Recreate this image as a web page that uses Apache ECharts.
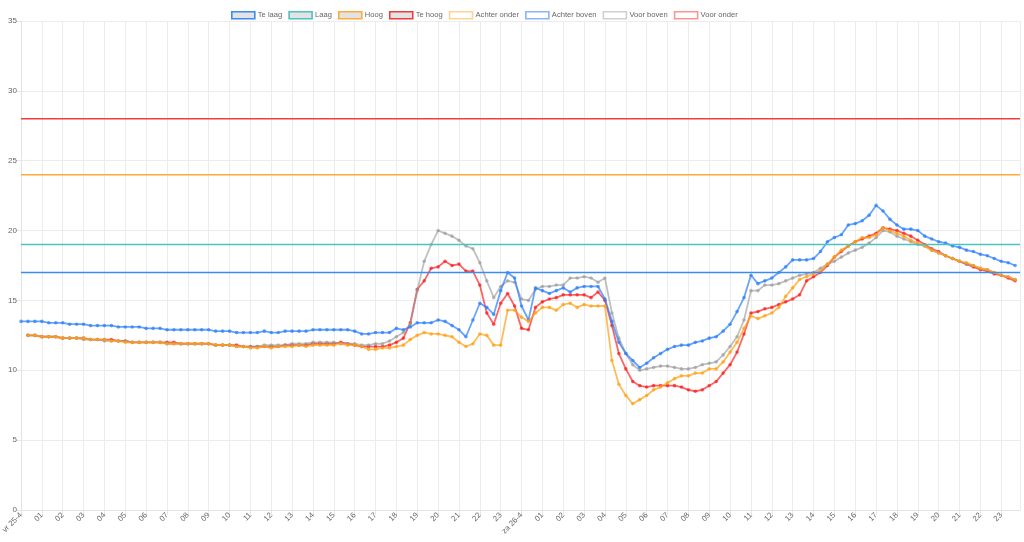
<!DOCTYPE html>
<html><head><meta charset="utf-8">
<script src="https://cdn.jsdelivr.net/npm/echarts@6/dist/echarts.min.js"></script>
<style>html,body{margin:0;padding:0;background:#fff}#c{width:1024px;height:542px}</style>
</head><body><div id="c"></div>
<script>
// Tick labels (one per hour, 48 hours)
const xTickLabels = ['vr 25-4','01','02','03','04','05','06','07','08','09','10','11','12','13','14','15','16','17','18','19','20','21','22','23',
                     'za 26-4','01','02','03','04','05','06','07','08','09','10','11','12','13','14','15','16','17','18','19','20','21','22','23'];
const pointsPerHour = 3; // one sample every 20 minutes

// Thresholds
const thresholdNames = ['Te laag','Laag','Hoog','Te hoog'];
const thresholdValues = [17, 19, 24, 28];

// Sensor series (144 samples, 20 min apart)
const achterOnder = [null,
12.5,12.5,12.4,12.4,12.4,12.3,12.3,12.3,12.3,12.2,12.2,12.2,12.1,12.1,12.0,12.0,12.0,12.0,12.0,12.0,
11.9,11.9,11.9,11.9,11.9,11.9,11.9,11.8,11.8,11.8,11.7,11.7,11.6,11.6,11.7,11.6,11.7,11.7,11.7,11.8,
11.7,11.8,11.8,11.8,11.8,11.9,11.8,11.8,11.7,11.5,11.5,11.6,11.6,11.7,11.8,12.2,12.5,12.7,12.6,12.6,
12.5,12.4,12.0,11.7,11.9,12.6,12.5,11.8,11.8,14.3,14.3,13.8,13.5,14.1,14.5,14.5,14.3,14.7,14.8,14.5,
14.7,14.6,14.6,14.6,10.7,9.0,8.2,7.6,7.9,8.2,8.6,8.8,9.1,9.4,9.6,9.6,9.8,9.8,10.1,10.1,
10.6,11.3,12.0,13.0,13.9,13.7,13.9,14.1,14.5,15.3,15.9,16.5,16.7,16.9,17.1,17.6,18.1,18.6,18.9,19.2,
19.5,19.5,19.7,20.2,20.0,19.8,19.6,19.3,19.1,18.9,18.6,18.4,18.2,18.0,17.8,17.7,17.5,17.3,17.2,17.0,
16.8,16.7,16.5];
const achterBoven = [13.5,
13.5,13.5,13.5,13.4,13.4,13.4,13.3,13.3,13.3,13.2,13.2,13.2,13.2,13.1,13.1,13.1,13.1,13.0,13.0,13.0,
12.9,12.9,12.9,12.9,12.9,12.9,12.9,12.8,12.8,12.8,12.7,12.7,12.7,12.7,12.8,12.7,12.7,12.8,12.8,12.8,
12.8,12.9,12.9,12.9,12.9,12.9,12.9,12.8,12.6,12.6,12.7,12.7,12.7,13.0,12.9,13.1,13.4,13.4,13.4,13.6,
13.5,13.2,12.9,12.4,13.6,14.8,14.5,14.0,15.7,17.0,16.6,14.6,13.6,15.9,15.7,15.5,15.7,15.9,15.6,15.9,
16.0,16.0,16.0,15.1,13.5,12.0,11.2,10.7,10.2,10.5,10.9,11.2,11.5,11.7,11.8,11.8,12.0,12.1,12.3,12.4,
12.8,13.3,14.2,15.2,16.8,16.2,16.4,16.6,17.0,17.4,17.9,17.9,17.9,18.0,18.5,19.2,19.5,19.7,20.4,20.5,
20.7,21.1,21.8,21.4,20.8,20.4,20.1,20.1,20.0,19.6,19.4,19.2,19.1,18.9,18.8,18.6,18.5,18.3,18.2,18.0,
17.8,17.7,17.5];
const voorBoven = [null,
12.5,12.5,12.4,12.4,12.4,12.3,12.3,12.3,12.2,12.2,12.2,12.1,12.1,12.1,12.1,12.0,12.0,12.0,12.0,12.0,
11.9,11.9,11.9,11.9,11.9,11.9,11.9,11.8,11.8,11.8,11.7,11.7,11.7,11.7,11.8,11.8,11.8,11.8,11.9,11.9,
11.9,12.0,12.0,12.0,12.0,11.9,11.9,11.9,11.8,11.8,11.9,11.9,12.1,12.4,12.7,13.3,15.7,17.8,19.0,20.0,
19.8,19.6,19.3,18.9,18.7,17.7,16.4,15.2,16.0,16.4,16.3,15.1,15.0,15.8,16.0,16.0,16.1,16.1,16.6,16.6,
16.7,16.6,16.3,16.6,14.1,12.3,11.2,10.4,10.0,10.1,10.2,10.3,10.3,10.2,10.1,10.1,10.2,10.4,10.5,10.6,
11.1,11.7,12.4,13.6,15.7,15.7,16.1,16.1,16.2,16.4,16.6,16.8,16.9,17.0,17.3,17.6,17.8,18.1,18.4,18.6,
18.8,19.1,19.5,20.0,19.9,19.6,19.4,19.2,19.0,18.9,18.6,18.4,18.2,18.0,17.8,17.6,17.5,17.3,17.2,17.0,
16.8,16.7,16.5];
const voorOnder = [null,
12.5,12.5,12.4,12.4,12.4,12.3,12.3,12.3,12.3,12.2,12.2,12.2,12.2,12.1,12.1,12.0,12.0,12.0,12.0,12.0,
12.0,12.0,11.9,11.9,11.9,11.9,11.9,11.8,11.8,11.8,11.8,11.7,11.7,11.7,11.7,11.7,11.7,11.8,11.8,11.8,
11.8,11.9,11.9,11.9,11.9,12.0,11.9,11.8,11.7,11.7,11.7,11.7,11.8,12.0,12.3,13.4,15.8,16.4,17.3,17.4,
17.8,17.5,17.6,17.1,17.1,16.1,14.1,13.3,14.8,15.5,14.6,13.0,12.9,14.5,14.9,15.1,15.2,15.4,15.4,15.4,
15.4,15.2,15.6,15.0,13.2,11.2,10.1,9.2,8.9,8.8,8.9,8.9,8.9,8.9,8.8,8.6,8.5,8.6,8.9,9.2,
9.8,10.4,11.3,12.6,14.1,14.2,14.4,14.5,14.7,14.9,15.1,15.4,16.4,16.7,17.0,17.5,18.1,18.5,18.9,19.2,
19.4,19.6,19.8,20.2,20.1,20.0,19.8,19.6,19.3,19.0,18.7,18.5,18.2,18.0,17.8,17.6,17.4,17.2,17.1,16.9,
16.8,16.6,16.4];

const sensorNames = ['Achter onder','Achter boven','Voor boven','Voor onder'];
const sensorData = [achterOnder, achterBoven, voorBoven, voorOnder];

// styles
const thresholdColors = ['rgb(58,140,240)','rgb(75,195,190)','rgb(255,170,60)','rgb(240,60,60)'];
const sensorColors = ['rgba(255,160,20,0.7)','rgba(40,125,250,0.7)','rgba(150,150,150,0.6)','rgba(250,20,20,0.65)'];
const sensorLegendBorders = ['rgba(255,170,40,0.5)','rgba(60,130,250,0.6)','rgba(150,150,150,0.45)','rgba(250,40,40,0.5)'];

const xMax = 47.9;
const font = "'Liberation Sans', Arial, sans-serif";

const series = [];
thresholdNames.forEach((n, k) => {
  series.push({
    name: n, type: 'line', showSymbol: false, symbol: 'none', silent: true,
    z: 20 - k,
    lineStyle: { color: thresholdColors[k], width: 1.6 },
    itemStyle: { color: thresholdColors[k] },
    data: [[0, thresholdValues[k]], [xMax, thresholdValues[k]]]
  });
});
sensorNames.forEach((n, k) => {
  const arr = sensorData[k];
  const data = [];
  arr.forEach((v, i) => { if (v !== null) data.push([i / pointsPerHour, v]); });
  series.push({
    name: n, type: 'line', symbol: 'circle', symbolSize: 3.6, showSymbol: true, silent: true,
    z: 12 - k,
    lineStyle: { color: sensorColors[k], width: 1.8 },
    itemStyle: { color: sensorColors[k] },
    data: data
  });
});

const legendData = thresholdNames.map((n, k) => ({
  name: n, icon: 'rect',
  itemStyle: { color: 'rgba(0,0,0,0.11)', borderColor: thresholdColors[k], borderWidth: 1.6 }
})).concat(sensorNames.map((n, k) => ({
  name: n, icon: 'rect',
  itemStyle: { color: 'rgba(255,255,255,1)', borderColor: sensorLegendBorders[k], borderWidth: 1.6 }
})));

const chart = echarts.init(document.getElementById('c'), null, { renderer: 'canvas' });
chart.setOption({
  animation: false,
  backgroundColor: '#fff',
  textStyle: { fontFamily: font },
  legend: {
    top: 6, left: 226, itemWidth: 23, itemHeight: 7, itemGap: 6,
    selectedMode: false,
    textStyle: { fontSize: 7.6, color: '#666', fontFamily: font, padding: [0,0,0,-2] },
    data: legendData
  },
  grid: { left: 21, right: 4, top: 21, bottom: 32, outerBoundsMode: 'none', containLabel: false },
  xAxis: {
    type: 'value', min: 0, max: xMax, interval: 1,
    axisLine: { show: true, lineStyle: { color: '#e3e3e3' } },
    axisTick: { show: true, length: 5, lineStyle: { color: '#e6e6e6' } },
    splitLine: { show: true, lineStyle: { color: '#ececec', width: 1 } },
    axisLabel: {
      rotate: 45, margin: 4, fontSize: 7.8, color: '#666', fontFamily: font,
      showMaxLabel: false,
      formatter: v => Number.isInteger(v) ? (xTickLabels[v] || '') : ''
    }
  },
  yAxis: {
    type: 'value', min: 0, max: 35, interval: 5,
    axisLine: { show: true, lineStyle: { color: '#e3e3e3' } },
    axisTick: { show: true, length: 5, lineStyle: { color: '#e6e6e6' } },
    splitLine: { show: true, lineStyle: { color: '#ececec', width: 1 } },
    axisLabel: { margin: 4, fontSize: 8, color: '#666', fontFamily: font }
  },
  series: series
});
</script>
</body></html>
